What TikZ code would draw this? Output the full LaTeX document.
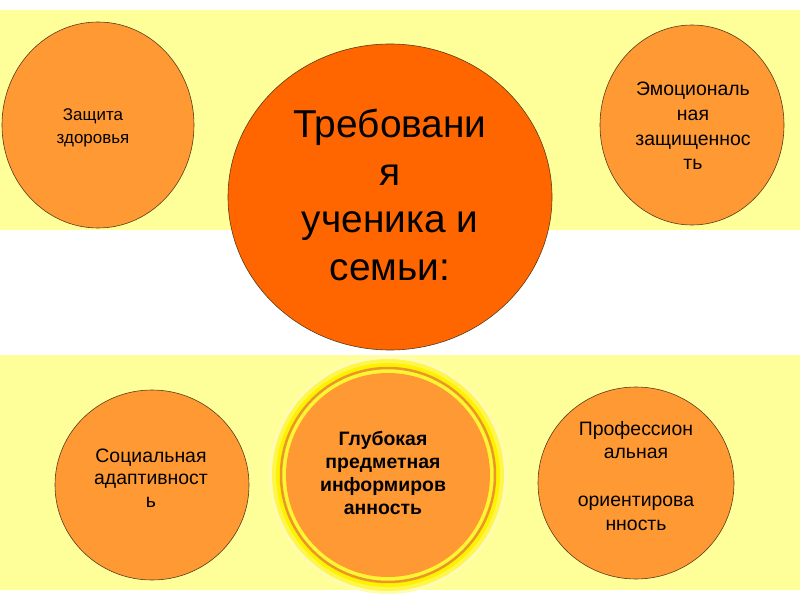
\documentclass[tikz,border=0pt]{standalone}
\usepackage{fontspec}
\setmainfont{Liberation Sans}
\definecolor{bandyellow}{HTML}{FFFF99}
\definecolor{orfill}{HTML}{FF9933}
\definecolor{redor}{HTML}{FF6600}
\definecolor{edge}{HTML}{5A3A1A}
\begin{document}
\begin{tikzpicture}[x=1bp,y=-1bp,
  bubble/.style={draw=edge, line width=0.6bp, fill=orfill},
  txt/.style={align=center, text=black, inner sep=0pt}]
\useasboundingbox (0,0) rectangle (800,600);
\fill[white] (0,0) rectangle (800,600);
\fill[bandyellow] (0,10) rectangle (800,230);
\fill[bandyellow] (0,355) rectangle (800,590);
% top-left
\draw[bubble] (98,125) ellipse [x radius=96, y radius=103];
\node[txt, font=\fontsize{17}{23}\selectfont] (health) at (93,128) {Защита\\здоровья};
% top-right
\draw[bubble] (692,125) ellipse [x radius=92, y radius=100];
\node[txt, font=\fontsize{19.5}{24.8}\selectfont] (emo) at (693,126) {Эмоциональ\\ная\\защищеннос\\ть};
% centre
\draw[draw=edge, line width=0.6bp, fill=redor] (390,197) ellipse [x radius=162, y radius=153];
\node[txt, font=\fontsize{39}{48}\selectfont] (main) at (390,195) {Требовани\\я\\ученика и\\семьи:};
% bottom-left
\draw[bubble] (152,485) ellipse [x radius=97, y radius=95];
\node[txt, font=\fontsize{19.5}{22.5}\selectfont] (soc) at (151,478) {Социальная\\адаптивност\\ь};
% bottom-centre glow
\fill[yellow!30] (388,475) circle [radius=119];
\fill[yellow!70] (388,475) circle [radius=116];
\fill[yellow] (388,475) circle [radius=112];
\draw[draw={rgb,255:red,235;green,150;blue,40}, line width=2.5bp, fill=yellow!80] (388,475) circle [radius=107];
\fill[orfill] (388,475) circle [radius=102];
\node[txt, font=\fontsize{19.5}{23.3}\bfseries] (deep) at (383,473) {Глубокая\\предметная\\информиров\\анность};
% bottom-right
\draw[bubble] (636,483) ellipse [x radius=98, y radius=96];
\node[txt, font=\fontsize{19.5}{24}\selectfont] (prof) at (636,476) {Профессион\\альная\\[24bp]ориентирова\\нность};
\end{tikzpicture}
\end{document}
